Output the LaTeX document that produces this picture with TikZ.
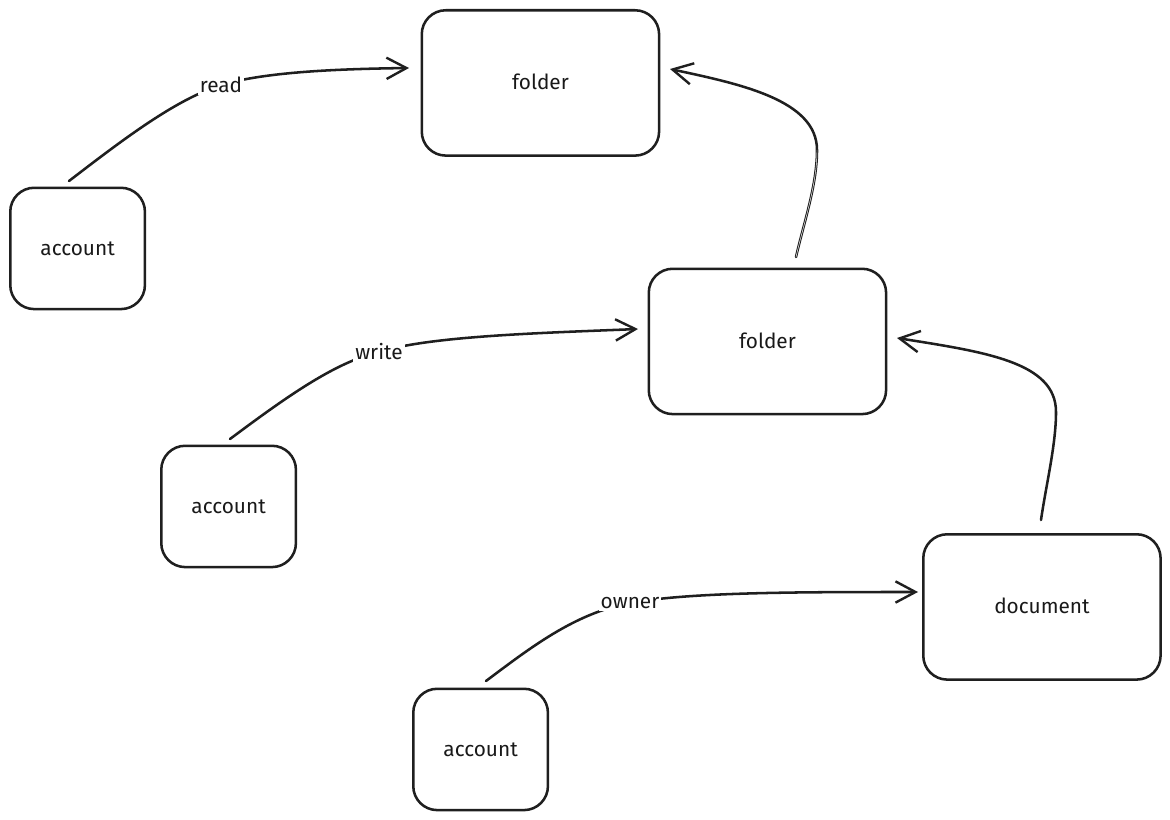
\documentclass[tikz,border=0pt]{standalone}
\usepackage{fontspec}
\setmainfont{Fira Sans}
\usetikzlibrary{arrows.meta}
\tikzset{
 box/.style={draw=black!88,line width=1.9pt,rounded corners=18pt,fill=white,anchor=north west,inner sep=0pt,font=\fontsize{15.6}{18}\selectfont,text=black!90},
 bigbox/.style={box,minimum width=178pt,minimum height=109pt},
 smallbox/.style={box,minimum width=101pt,minimum height=91pt},
 link/.style={draw=black!88,line width=1.9pt,line cap=round,-{Straight Barb[length=15pt,width=16pt,line width=1.8pt]}},
 seam/.style={draw=white,line width=0.35pt},
 lab/.style={fill=white,inner sep=1.5pt,font=\fontsize{15.6}{18}\selectfont,text=black!90}
}
\newcommand{\up}[1]{\raisebox{1.5pt}{#1}}
\begin{document}
\begin{tikzpicture}[x=0.75pt,y=-0.75pt]
\useasboundingbox (0,0) rectangle (1170,820);
\node[bigbox] (f1) at (420.5,9) {\up{folder}};
\node[bigbox] (f2) at (647.5,267.5) {\up{folder}};
\node[bigbox] (d) at (922,533) {\up{document}};
\node[smallbox] (a1) at (9,186.5) {account};
\node[smallbox] (a2) at (160,444.5) {account};
\node[smallbox] (a3) at (412,687.5) {account};
\coordinate (a1e) at (69,181);
\coordinate (f1w) at (409,68);
\coordinate (a2e) at (230,439);
\coordinate (f2w) at (638,329);
\coordinate (a3e) at (486,681);
\coordinate (dw) at (918,592);
\coordinate (f2t) at (796,257);
\coordinate (f1e) at (670,69);
\coordinate (dt) at (1041,520);
\coordinate (f2e) at (897,338);
\coordinate (bf) at (817,150);
\coordinate (bd) at (1056,412);
\coordinate (lr) at (221,85);
\coordinate (lw) at (379,352);
\coordinate (lo) at (630,603);
\draw[link] (a1e) .. controls (125,138) and (175,100) .. (lr) .. controls (265,72) and (335,69) .. (f1w);
\draw[link] (a2e) .. controls (285,398) and (335,362) .. (lw) .. controls (430,336) and (540,333) .. (f2w);
\draw[link] (a3e) .. controls (530,648) and (575,613) .. (lo) .. controls (690,592) and (800,592) .. (dw);
\draw[link] (f2t) .. controls (804,222) and (817,185) .. (bf) .. controls (817,100) and (740,84) .. (f1e);
\draw[seam] (f2t) .. controls (804,222) and (817,185) .. (bf);
\draw[link] (dt) .. controls (1046,485) and (1056,445) .. (bd) .. controls (1056,362) and (985,352) .. (f2e);
\node[lab] (tr) at (lr) {read};
\node[lab] (tw) at (lw) {write};
\node[lab] (to) at (lo) {owner};
\end{tikzpicture}
\end{document}
